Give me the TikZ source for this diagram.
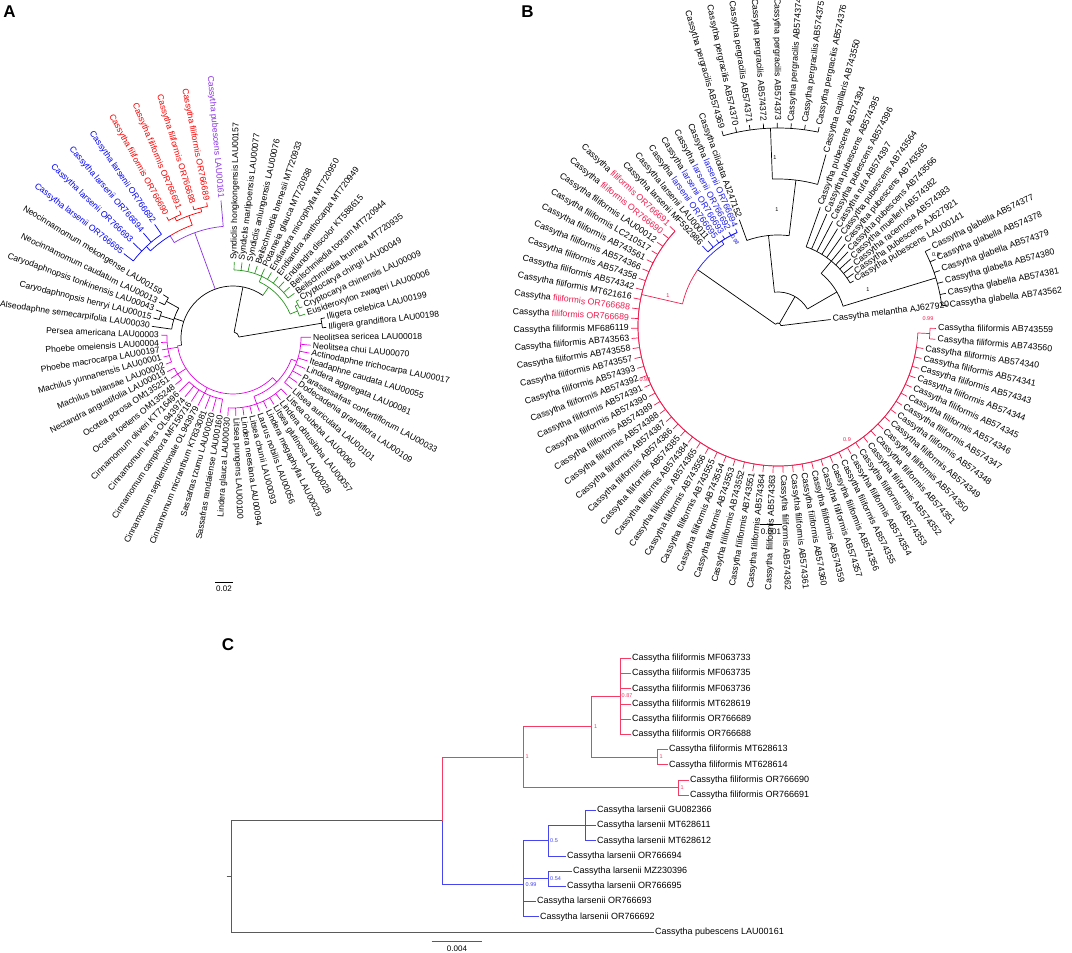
\documentclass[tikz,border=0pt]{standalone}
\usepackage{fontspec}
\setmainfont{Liberation Sans}
\definecolor{redA}{RGB}{250,0,0}
\definecolor{blueA}{RGB}{0,0,250}
\definecolor{purpleA}{RGB}{140,50,230}
\definecolor{greenA}{RGB}{40,150,30}
\definecolor{magentaA}{RGB}{230,0,230}
\definecolor{redB}{RGB}{240,30,80}
\definecolor{blueB}{RGB}{30,30,235}
\definecolor{redC}{RGB}{245,60,100}
\definecolor{blueC}{RGB}{70,70,240}
\definecolor{greyC}{RGB}{90,90,90}
\tikzset{
  branch/.style={line width=0.7pt},
  leafA/.style={font=\fontsize{8.6}{10}\selectfont, inner sep=1pt},
  leafB/.style={font=\fontsize{8.8}{10}\selectfont, inner sep=1pt},
  leafC/.style={font=\fontsize{9}{10}\selectfont, inner sep=1pt, anchor=west},
  supp/.style={font=\fontsize{5.5}{6}\selectfont, inner sep=0.5pt},
  scaletext/.style={font=\fontsize{8}{9}\selectfont, inner sep=0pt},
  panel/.style={font=\fontsize{17}{18}\selectfont\bfseries, inner sep=0pt}
}
% rotated tip label: name, centre, angle, radius, style, text
\newcommand{\leaf}[6]{%
  \pgfmathsetmacro{\la}{mod(#3+720,360)}%
  \pgfmathtruncatemacro{\lr}{cos(\la)>0}%
  \ifnum\lr=1
    \node[#5, anchor=west, rotate=\la] (#1) at ([shift={(#2)}]\la:#4) {#6};
  \else
    \pgfmathsetmacro{\lb}{\la-180}%
    \node[#5, anchor=east, rotate=\lb] (#1) at ([shift={(#2)}]\la:#4) {#6};
  \fi}
% radial branch: centre, angle, r1, r2, style
\newcommand{\radbr}[5]{\draw[branch,#5] ([shift={(#1)}]#2:#3) -- ([shift={(#1)}]#2:#4);}
% arc at a node: centre, r, angle1, angle2, style
\newcommand{\arcbr}[5]{\draw[branch,#5] ([shift={(#1)}]#3:#2) arc[start angle=#3, end angle=#4, radius=#2];}
% clade of tips: centre, start angle, step, first, last, R, T, style
\newcommand{\tips}[8]{%
  \pgfmathsetmacro{\ta}{#2-(#4-1)*#3}\pgfmathsetmacro{\tb}{#2-(#5-1)*#3}%
  \draw[branch,#8] ([shift={(#1)}]\ta:#6) arc[start angle=\ta, end angle=\tb, radius=#6];
  \foreach \k in {#4,...,#5}{\pgfmathsetmacro{\tk}{#2-(\k-1)*#3}%
    \draw[branch,#8] ([shift={(#1)}]\tk:#6) -- ([shift={(#1)}]\tk:#7);}}
\newcommand{\tipsA}[5]{\tips{cA}{95}{5.9}{#1}{#2}{#3}{#4}{#5}}
\newcommand{\tipsB}[5]{\tips{cB}{110}{3.96}{#1}{#2}{#3}{#4}{#5}}
\begin{document}
\begin{tikzpicture}[x=1pt,y=1pt]
\useasboundingbox (0,0) rectangle (1072,953);
\fill[white] (0,0) rectangle (1072,953);

\node[panel] (pA) at (9.5,941) {A};
\node[panel] (pB) at (527.5,941) {B};
\node[panel] (pC) at (228,308) {C};

% ---------- A ----------
\coordinate (cA) at (233,615);
\arcbr{cA}{6}{9.45}{79}{}
\radbr{cA}{9.45}{6}{90}{}
\tipsA{15}{16}{90}{94}{}
\radbr{cA}{79}{6}{52}{}
\arcbr{cA}{52}{55}{188}{}
\radbr{cA}{55}{52}{62}{greenA}
\arcbr{cA}{62}{22.7}{65}{greenA}
\radbr{cA}{65}{62}{68}{greenA}
\tipsA{2}{11}{68}{76}{greenA}
\radbr{cA}{22.7}{62}{70}{greenA}
\arcbr{cA}{70}{18.3}{27.15}{greenA}
\radbr{cA}{18.3}{70}{76}{greenA}
\radbr{cA}{27.15}{70}{73}{greenA}
\tipsA{12}{13}{73}{76}{greenA}
\radbr{cA}{110}{52}{112}{purpleA}
\arcbr{cA}{112}{95}{121.6}{purpleA}
\radbr{cA}{95}{112}{138}{purpleA}
\radbr{cA}{121.6}{112}{120}{purpleA}
\arcbr{cA}{120}{109.85}{121.6}{redA}
\arcbr{cA}{120}{121.6}{133.45}{blueA}
\radbr{cA}{109.85}{120}{130}{redA}
\arcbr{cA}{130}{103.95}{115.75}{redA}
\radbr{cA}{103.95}{130}{134}{redA}
\radbr{cA}{115.75}{130}{134}{redA}
\tipsA{58}{59}{134}{138}{redA}
\tipsA{60}{61}{134}{138}{redA}
\radbr{cA}{133.45}{120}{126}{blueA}
\tipsA{54}{57}{126}{138}{blueA}
\radbr{cA}{161.5}{52}{62}{}
\arcbr{cA}{62}{151.15}{171.8}{}
\radbr{cA}{151.15}{62}{76}{}
\tipsA{52}{53}{76}{82}{}
\radbr{cA}{162.95}{62}{76}{}
\tipsA{50}{51}{76}{82}{}
\radbr{cA}{171.8}{62}{82}{}
\radbr{cA}{188}{52}{56}{magentaA}
\arcbr{cA}{56}{-172}{-45.1}{magentaA}
\radbr{cA}{-170.5}{56}{66}{magentaA}
\tipsA{44}{48}{66}{72}{magentaA}
\radbr{cA}{-146.9}{56}{66}{magentaA}
\tipsA{41}{43}{66}{74}{magentaA}
\radbr{cA}{-117.4}{56}{62}{magentaA}
\tipsA{34}{40}{62}{76}{magentaA}
\radbr{cA}{-45.1}{56}{62}{magentaA}
\arcbr{cA}{62}{-70.2}{-20.05}{magentaA}
\radbr{cA}{-20.05}{62}{68}{magentaA}
\tipsA{17}{24}{68}{78}{magentaA}
\radbr{cA}{-70.2}{62}{70}{magentaA}
\tipsA{25}{33}{70}{78}{magentaA}

\foreach \i/\c/\r/\t in {1/purpleA/139/Cassytha pubescens LAU00161,
  2/black/77/Syndiclis hongkongensis LAU00157, 3/black/77/Syndiclis marlipoensis LAU00077,
  4/black/77/Syndiclis anlungensis LAU00076, 5/black/77/Beilschmiedia brenesii MT720933,
  6/black/77/Potameia glauca MT720938, 7/black/77/Endiandra microphylla MT720950,
  8/black/77/Endiandra xanthocarpa MT720949, 9/black/77/Endiandra discolor KT588615,
  10/black/77/Beilschmiedia tooram MT720944, 11/black/77/Beilschmiedia brunnea MT720935,
  12/black/77/Cryptocarya chingii LAU00049, 13/black/77/Cryptocarya chinensis LAU00009,
  14/black/77/Eusideroxylon zwageri LAU00006, 15/black/95/Illigera celebica LAU00199,
  16/black/95/Illigera grandiflora LAU00198, 17/black/79/Neolitsea sericea LAU00018,
  18/black/79/Neolitsea chui LAU00070, 19/black/79/Actinodaphne trichocarpa LAU00017,
  20/black/79/Iteadaphne caudata LAU00055, 21/black/79/Lindera aggregata LAU00081,
  22/black/79/Parasassafras confertiflorum LAU00033, 23/black/79/Dodecadenia grandiflora LAU00109,
  24/black/79/Litsea auriculata LAU00101, 25/black/79/Litsea cubeba LAU00060,
  26/black/79/Lindera obtusiloba LAU00057, 27/black/79/Litsea glutinosa LAU00028,
  28/black/79/Lindera megaphylla LAU00029, 29/black/79/Laurus nobilis LAU00056,
  30/black/79/Litsea chunii LAU00093, 31/black/79/Lindera neesiana LAU00094,
  32/black/79/Litsea pungens LAU00100, 33/black/79/Lindera glauca LAU00030,
  34/black/77/Sassafras randaiense LAU00160, 35/black/77/Sassafras tzumu LAU00020,
  36/black/77/Cinnamomum micranthum KT833081, 37/black/77/Cinnamomum septentrionale OL943979,
  38/black/77/Cinnamomum camphora MF156716, 39/black/77/Cinnamomum iners OL943974,
  40/black/77/Cinnamomum oliveri KT716496, 41/black/75/Ocotea foetens OM135248,
  42/black/75/Ocotea porosa OM135251, 43/black/75/Nectandra angustifolia LAU00019,
  44/black/73/Machilus balansae LAU00002, 45/black/73/Machilus yunnanensis LAU00001,
  46/black/73/Phoebe macrocarpa LAU00197, 47/black/73/Phoebe omeiensis LAU00004,
  48/black/73/Persea americana LAU00003, 49/black/83/Alseodaphne semecarpifolia LAU00030,
  50/black/83/Caryodaphnopsis henryi LAU00015, 51/black/83/Caryodaphnopsis tonkinensis LAU00043,
  52/black/83/Neocinnamomum caudatum LAU00013, 53/black/83/Neocinnamomum mekongense LAU00159,
  54/blueA/139/Cassytha larsenii OR766695, 55/blueA/139/Cassytha larsenii OR766693,
  56/blueA/139/Cassytha larsenii OR766694, 57/blueA/139/Cassytha larsenii OR766692,
  58/redA/139/Cassytha filiformis OR766690, 59/redA/139/Cassytha filiformis OR766691,
  60/redA/139/Cassytha filiformis OR766688, 61/redA/139/Cassytha filiformis OR766689}
  {\pgfmathsetmacro{\tang}{95-(\i-1)*5.9}\leaf{a\i}{cA}{\tang}{\r}{leafA,text=\c}{\t}}

\coordinate (sbA1) at (215,371);
\coordinate (sbA2) at (233,371);
\draw[branch] (sbA1) -- (sbA2);
\node[scaletext] (sbAt) at (224,364) {0.02};

% ---------- B ----------
\coordinate (cB) at (778,627);
\arcbr{cB}{3}{7}{145}{}
\radbr{cB}{7}{3}{53}{}
\radbr{cB}{145}{3}{98}{}
\arcbr{cB}{98}{145}{167}{redB}
\arcbr{cB}{98}{123.5}{145}{blueB}
\radbr{cB}{167}{98}{140}{redB}
\arcbr{cB}{140}{-2.86}{-222.64}{redB}
\tipsB{31}{85}{140}{147}{redB}
\radbr{cB}{-2.86}{140}{152}{redB}
\tipsB{29}{30}{152}{158}{redB}
\radbr{cB}{123.5}{98}{102}{blueB}
\tipsB{86}{87}{102}{110}{blueB}
\tipsB{88}{91}{102}{106}{blueB}
\arcbr{cB}{102}{113.6}{133.4}{blueB}
\radbr{cB}{60}{3}{34}{}
\arcbr{cB}{34}{30}{96}{}
\radbr{cB}{30}{34}{68}{}
\arcbr{cB}{68}{16.94}{50.6}{}
\radbr{cB}{16.94}{68}{165}{}
\tipsB{22}{27}{165}{171}{}
\radbr{cB}{50.6}{68}{84}{}
\arcbr{cB}{84}{30.8}{70.4}{}
\foreach \i/\r in {11/126,12/122,13/118,14/114,15/110,16/106,17/102,18/99,19/96,20/92,21/88}
  {\pgfmathsetmacro{\tang}{110-(\i-1)*3.96}\radbr{cB}{\tang}{84}{\r}{}}
\radbr{cB}{96}{34}{91}{}
\arcbr{cB}{91}{83}{110}{}
\radbr{cB}{110}{91}{113}{}
\radbr{cB}{83}{91}{147}{}
\arcbr{cB}{147}{74.36}{92.18}{}
\radbr{cB}{74.36}{147}{178}{}
\radbr{cB}{92.18}{147}{198}{}
\tipsB{2}{9}{198}{203}{}

\node[supp,text=redB] (sB1) at (668,657) {1};
\node[supp,text=redB] (sB2) at (645,573) {0.98};
\node[supp,text=redB] (sB3) at (847,513) {0.9};
\node[supp,text=redB] (sB4) at (928,634) {0.99};
\node[supp,text=blueB,rotate=-60] (sB5) at (735,713) {0.98};
\node[supp] (sB6) at (775,795) {1};
\node[supp] (sB7) at (777,743) {1};
\node[supp] (sB8) at (868,663) {1};
\node[supp] (sB9) at (936,698) {0.9};

\leaf{b28}{cB}{7}{54}{leafB}{Cassytha melantha AJ627920}
\foreach \i/\r/\t in {1/114/Cassytha ciliolata AJ247152,
  2/204/Cassytha pergracilis AB574369, 3/204/Cassytha pergracilis AB574370,
  4/204/Cassytha pergracilis AB574371, 5/204/Cassytha pergracilis AB574372,
  6/204/Cassytha pergracilis AB574373, 7/204/Cassytha pergracilis AB574374,
  8/204/Cassytha pergracilis AB574375, 9/204/Cassytha pergracilis AB574376,
  10/179/Cassytha capillaris AB743550, 11/127/Cassytha pubescens AB574394,
  12/123/Cassytha pubescens AB574395, 13/119/Cassytha pubescens AB574396,
  14/115/Cassytha rufa AB574397, 15/111/Cassytha pubescens AB743564,
  16/107/Cassytha pubescens AB743565, 17/103/Cassytha pubescens AB743566,
  18/100/Cassytha muelleri AB574382, 19/97/Cassytha racemosa AB574383,
  20/93/Cassytha pubescens AJ627921, 21/89/Cassytha pubescens LAU00141,
  22/172/Cassytha glabella AB574377, 23/172/Cassytha glabella AB574378,
  24/172/Cassytha glabella AB574379, 25/172/Cassytha glabella AB574380,
  26/172/Cassytha glabella AB574381, 27/172/Cassytha glabella AB743562,
  29/159/Cassytha filiformis AB743559, 30/159/Cassytha filiformis AB743560,
  31/148/Cassytha filiformis AB574340, 32/148/Cassytha filiformis AB574341,
  33/148/Cassytha filiformis AB574343, 34/148/Cassytha filiformis AB574344,
  35/148/Cassytha filiformis AB574345, 36/148/Cassytha filiformis AB574346,
  37/148/Cassytha filiformis AB574347, 38/148/Cassytha filiformis AB574348,
  39/148/Cassytha filiformis AB574349, 40/148/Cassytha filiformis AB574350,
  41/148/Cassytha filiformis AB574351, 42/148/Cassytha filiformis AB574352,
  43/148/Cassytha filiformis AB574353, 44/148/Cassytha filiformis AB574354,
  45/148/Cassytha filiformis AB574355, 46/148/Cassytha filiformis AB574356,
  47/148/Cassytha filiformis AB574357, 48/148/Cassytha filiformis AB574359,
  49/148/Cassytha filiformis AB574360, 50/148/Cassytha filiformis AB574361,
  51/148/Cassytha filiformis AB574362, 52/148/Cassytha filiformis AB574363,
  53/148/Cassytha filiformis AB574364, 54/148/Cassytha filiformis AB743551,
  55/148/Cassytha filiformis AB743552, 56/148/Cassytha filiformis AB743553,
  57/148/Cassytha filiformis AB743554, 58/148/Cassytha filiformis AB743555,
  59/148/Cassytha filiformis AB743556, 60/148/Cassytha filiformis AB574365,
  61/148/Cassytha filiformis AB574384, 62/148/Cassytha filiformis AB574385,
  63/148/Cassytha filiformis AB574386, 64/148/Cassytha filiformis AB574387,
  65/148/Cassytha filiformis AB574388, 66/148/Cassytha filiformis AB574389,
  67/148/Cassytha filiformis AB574390, 68/148/Cassytha filiformis AB574391,
  69/148/Cassytha filiformis AB574392, 70/148/Cassytha filiformis AB574393,
  71/148/Cassytha filiformis AB743557, 72/148/Cassytha filiformis AB743558,
  73/148/Cassytha filiformis AB743563, 74/148/Cassytha filiformis MF686119,
  75/148/{Cassytha \textcolor{redB}{filiformis OR766689}},
  76/148/{Cassytha \textcolor{redB}{filiformis OR766688}},
  77/148/Cassytha filiformis MT621616, 78/148/Cassytha filiformis AB574342,
  79/148/Cassytha filiformis AB574358, 80/148/Cassytha filiformis AB574366,
  81/148/Cassytha filiformis AB743561, 82/148/Cassytha filiformis LC210517,
  83/148/Cassytha filiformis LAU00012,
  84/148/{Cassytha \textcolor{redB}{filiformis OR766690}},
  85/148/{Cassytha \textcolor{redB}{filiformis OR766691}},
  86/111/Cassytha larsenii MF592986, 87/111/Cassytha larsenii LAU00011,
  88/107/{Cassytha \textcolor{blueB}{larsenii OR766695}},
  89/107/{Cassytha \textcolor{blueB}{larsenii OR766693}},
  90/107/{Cassytha \textcolor{blueB}{larsenii OR766692}},
  91/107/{Cassytha \textcolor{blueB}{larsenii OR766694}}}
  {\pgfmathsetmacro{\tang}{110-(\i-1)*3.96}\leaf{b\i}{cB}{\tang}{\r}{leafB}{\t}}

\coordinate (sbB1) at (760,429);
\coordinate (sbB2) at (782,429);
\draw[branch] (sbB1) -- (sbB2);
\node[scaletext] (sbBt) at (771,421) {0.001};

% ---------- C ----------
\node[leafC] (c1) at (631,294.7) {Cassytha filiformis MF063733};
\node[leafC] (c2) at (631,279.5) {Cassytha filiformis MF063735};
\node[leafC] (c3) at (631,264.3) {Cassytha filiformis MF063736};
\node[leafC] (c4) at (631,249.1) {Cassytha filiformis MT628619};
\node[leafC] (c5) at (631,233.9) {Cassytha filiformis OR766689};
\node[leafC] (c6) at (631,218.7) {Cassytha filiformis OR766688};
\node[leafC] (c7) at (668,203.5) {Cassytha filiformis MT628613};
\node[leafC] (c8) at (668,188.3) {Cassytha filiformis MT628614};
\node[leafC] (c9) at (689,173.1) {Cassytha filiformis OR766690};
\node[leafC] (c10) at (689,157.9) {Cassytha filiformis OR766691};
\node[leafC] (c11) at (596,142.7) {Cassytha larsenii GU082366};
\node[leafC] (c12) at (596,127.5) {Cassytha larsenii MT628611};
\node[leafC] (c13) at (596,112.3) {Cassytha larsenii MT628612};
\node[leafC] (c14) at (566,97.1) {Cassytha larsenii OR766694};
\node[leafC] (c15) at (572,81.9) {Cassytha larsenii MZ230396};
\node[leafC] (c16) at (566,66.7) {Cassytha larsenii OR766695};
\node[leafC] (c17) at (536,51.5) {Cassytha larsenii OR766693};
\node[leafC] (c18) at (539,36.3) {Cassytha larsenii OR766692};
\node[leafC] (c19) at (654,21.1) {Cassytha pubescens LAU00161};

\coordinate (stubC) at (226.7,76.7);
\coordinate (rootC) at (231,76.7);
\coordinate (cassC) at (442,132.25);
\coordinate (filC) at (523.3,195.9);
\coordinate (filA) at (591.7,226.3);
\coordinate (fil87) at (620,256.7);
\coordinate (filP) at (657.3,195.9);
\coordinate (filQ) at (678.3,165.5);
\coordinate (larC) at (523.3,68.6);
\coordinate (larA) at (548.3,112.3);
\coordinate (larB) at (548.3,74.3);
\coordinate (larG) at (585.7,127.5);

\draw[branch,greyC] (stubC) -- (rootC);
\draw[branch,greyC] (rootC) |- (cassC);
\draw[branch,greyC] (rootC) |- (c19);
\draw[branch,redC] (cassC) |- (filC);
\draw[branch,blueC] (cassC) |- (larC);
\draw[branch,redC] (filC) |- (filA);
\draw[branch,redC] (filC) |- (filQ);
\draw[branch,redC] (filA) |- (fil87);
\draw[branch,redC] (filA) |- (filP);
\foreach \k in {1,...,6} \draw[branch,redC] (fil87) |- (c\k);
\draw[branch,redC] (filP) |- (c7);
\draw[branch,redC] (filP) |- (c8);
\draw[branch,redC] (filQ) |- (c9);
\draw[branch,redC] (filQ) |- (c10);
\draw[branch,blueC] (larC) |- (larA);
\draw[branch,blueC] (larC) |- (larB);
\draw[branch,blueC] (larC) |- (c17);
\draw[branch,blueC] (larC) |- (c18);
\draw[branch,blueC] (larA) |- (larG);
\draw[branch,blueC] (larA) |- (c14);
\draw[branch,blueC] (larG) |- (c11);
\draw[branch,blueC] (larG) |- (c12);
\draw[branch,blueC] (larG) |- (c13);
\draw[branch,blueC] (larB) |- (c15);
\draw[branch,blueC] (larB) |- (c16);

\node[supp,text=redC,anchor=west] (sC1) at (621,257) {0.87};
\node[supp,text=redC,anchor=west] (sC2) at (593.5,226.5) {1};
\node[supp,text=redC,anchor=west] (sC3) at (659,195.9) {1};
\node[supp,text=redC,anchor=west] (sC4) at (525,195.9) {1};
\node[supp,text=redC,anchor=west] (sC5) at (680,165.5) {1};
\node[supp,text=blueC,anchor=west] (sC6) at (549.5,112) {0.5};
\node[supp,text=blueC,anchor=west] (sC7) at (549.5,74.5) {0.54};
\node[supp,text=blueC,anchor=west] (sC8) at (525,68.5) {0.99};

\coordinate (sbC1) at (431.7,11.3);
\coordinate (sbC2) at (482.3,11.3);
\draw[branch,greyC] (sbC1) -- (sbC2);
\node[scaletext] (sbCt) at (457,4.5) {0.004};
\end{tikzpicture}
\end{document}
